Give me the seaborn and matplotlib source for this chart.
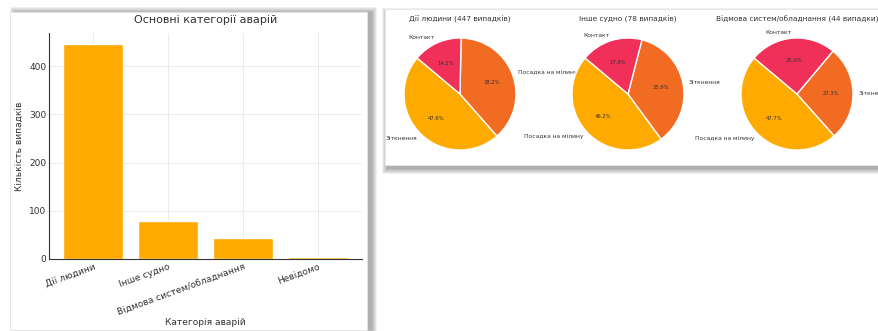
import matplotlib
matplotlib.use("Agg")
import matplotlib.pyplot as plt
import seaborn as sns
from matplotlib.patches import Rectangle

# --- data ---
categories = ["Дії людини", "Інше судно", "Відмова систем/обладнання", "Невідомо"]
counts = [447, 78, 44, 4]

pie_titles = ["Дії людини (447 випадків)",
              "Інше судно (78 випадків)",
              "Відмова систем/обладнання (44 випадки)"]
pie1_labels = ["Зіткнення", "Посадка на мілину", "Контакт"]
pie1_values = [47.6, 38.2, 14.2]
pie2_labels = ["Посадка на мілину", "Зіткнення", "Контакт"]
pie2_values = [46.2, 35.9, 17.9]
pie3_labels = ["Посадка на мілину", "Зіткнення", "Контакт"]
pie3_values = [47.7, 27.3, 25.0]

bar_color = "#FFAA00"
pie_colors = ["#FFAA00", "#F26B22", "#F03058"]

sns.set_style("whitegrid")
plt.rcParams["font.family"] = ["DejaVu Sans"]

W, H = 879, 331
fig = plt.figure(figsize=(W / 100, H / 100), dpi=100)
fig.patch.set_facecolor("white")


def px_rect(x0, y0, x1, y1):
    # pixel box (top-left origin) -> figure fraction rect
    return [x0 / W, 1 - y1 / H, (x1 - x0) / W, (y1 - y0) / H]


def card(x0, y0, x1, y1, dx, dy):
    # soft shadow made of a few translucent layers, then the white card
    for i in range(6):
        r = px_rect(x0 + dx - i, y0 + dy - i, x1 + dx + i, y1 + dy + i)
        fig.patches.append(Rectangle((r[0], r[1]), r[2], r[3], transform=fig.transFigure,
                                     facecolor="black", alpha=0.06, edgecolor="none", zorder=0))
    r = px_rect(x0, y0, x1, y1)
    fig.patches.append(Rectangle((r[0], r[1]), r[2], r[3], transform=fig.transFigure,
                                 facecolor="white", edgecolor="#e6e6e6", lw=0.6, zorder=1))


card(10, 12, 367, 330, 5, 0)
card(385, 9, 885, 165, 2, 4)

# --- bar chart ---
ax = fig.add_axes(px_rect(49, 33, 362, 259))
ax.set_zorder(2)
df = {"cat": categories, "n": counts}
sns.barplot(x="cat", y="n", data=df, color=bar_color, saturation=1, width=0.8, ax=ax)
ax.set_xlim(-0.59, 3.59)
ax.set_ylim(0, 469)
ax.set_yticks([0, 100, 200, 300, 400])
ax.set_title("Основні категорії аварій", fontsize=8, color="#333333", pad=7)
ax.set_xlabel("Категорія аварій", fontsize=6.5, color="#333333", labelpad=1)
ax.set_ylabel("Кількість випадків", fontsize=6.5, color="#333333")
ax.tick_params(axis="both", labelsize=6.5, colors="#333333", length=0, pad=2)
plt.setp(ax.get_xticklabels(), rotation=20, ha="right", rotation_mode="anchor")
ax.grid(True, color="#e8e8e8", lw=0.6)
ax.set_axisbelow(True)
for s in ["top", "right"]:
    ax.spines[s].set_visible(False)
for s in ["left", "bottom"]:
    ax.spines[s].set_color("#333333")
    ax.spines[s].set_linewidth(0.8)
ax.set_facecolor("white")

# --- pies ---
pie_sets = [(pie1_values, pie1_labels), (pie2_values, pie2_labels), (pie3_values, pie3_labels)]
centers = [(460, 94), (628, 94), (797, 94)]
for (vals, labs), title, (cx, cy) in zip(pie_sets, pie_titles, centers):
    pax = fig.add_axes(px_rect(cx - 70, cy - 70, cx + 70, cy + 70))
    pax.set_zorder(2)
    wedges, texts, autotexts = pax.pie(vals, labels=labs, colors=pie_colors, startangle=140,
                                       autopct="%1.1f%%", textprops={"fontsize": 4.3, "color": "#333333"})
    for t in autotexts:
        t.set_fontsize(3.8)
    pax.set_title(title, fontsize=5.3, color="#333333", pad=2)
    pax.set_aspect("equal")

fig.savefig("out.png", dpi=100, facecolor="white")
